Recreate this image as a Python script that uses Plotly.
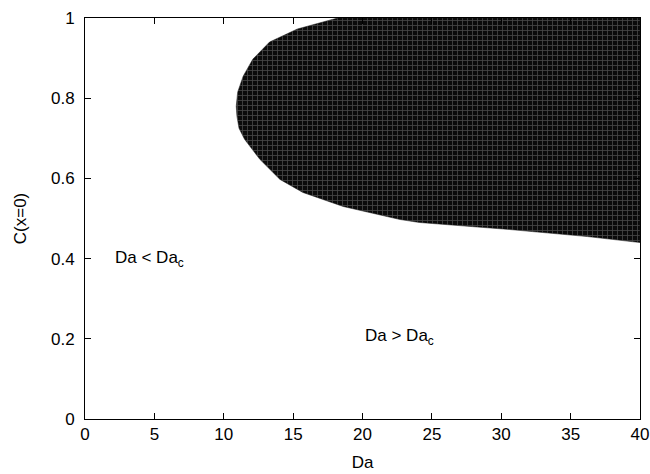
import plotly.graph_objects as go

# Boundary of the shaded region (Da, C(x=0))
boundary_Da = [40.0, 18.2, 15.3, 13.3, 12.1, 11.4, 11.0, 10.9, 10.95, 11.1,
               11.5, 12.6, 14.05, 15.7, 18.6, 22.7, 24.1, 30.6, 36.2, 40.0, 40.0]
boundary_C = [1.0, 1.0, 0.9725, 0.94, 0.8975, 0.855, 0.815, 0.78, 0.755, 0.725,
              0.6975, 0.6475, 0.5975, 0.565, 0.53, 0.4975, 0.49, 0.4725, 0.455, 0.44, 1.0]

x_ticks = [0, 5, 10, 15, 20, 25, 30, 35, 40]
y_ticks = [0, 0.2, 0.4, 0.6, 0.8, 1]
y_tick_labels = ["0", "0.2", "0.4", "0.6", "0.8", "1"]

labels = [
    {"text": "Da < Da<sub>c</sub>", "x": 2.0, "y": 0.40},
    {"text": "Da > Da<sub>c</sub>", "x": 20.0, "y": 0.205},
]

font = "Liberation Sans, Arial, Helvetica, sans-serif"

fig = go.Figure()
fig.add_trace(go.Scatter(
    x=boundary_Da, y=boundary_C, mode="lines", fill="toself",
    line=dict(color="#1a1a1a", width=0.5),
    fillcolor="#111111",
    fillpattern=dict(shape="+", bgcolor="#0a0a0a", fgcolor="#858585",
                     size=5, solidity=0.3),
    showlegend=False, hoverinfo="skip",
))

for lab in labels:
    fig.add_annotation(x=lab["x"], y=lab["y"], text=lab["text"], showarrow=False,
                       xanchor="left", yanchor="middle",
                       font=dict(family=font, size=17, color="black"))

axis_common = dict(showgrid=False, zeroline=False, showline=True, linecolor="black",
                   linewidth=1, mirror="ticks", ticks="inside", ticklen=6,
                   tickcolor="black", tickwidth=1, automargin=False,
                   tickfont=dict(family=font, size=17, color="black"))

fig.update_xaxes(range=[0, 40], tickvals=x_ticks, ticktext=[str(v) for v in x_ticks],
                 title=dict(text="Da", font=dict(family=font, size=17, color="black"),
                            standoff=12),
                 **axis_common)
fig.update_yaxes(range=[0, 1], tickvals=y_ticks, ticktext=y_tick_labels,
                 title=dict(text="C(x=0)", font=dict(family=font, size=17, color="black"),
                            standoff=20),
                 ticklabelstandoff=6,
                 **axis_common)

fig.update_layout(width=650, height=474, margin=dict(l=85, r=10, t=18, b=55),
                  paper_bgcolor="white", plot_bgcolor="white")

fig.write_html("out.html")
